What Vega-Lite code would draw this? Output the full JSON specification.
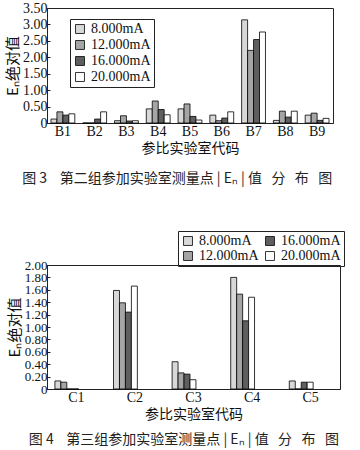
{
  "$schema": "https://vega.github.io/schema/vega-lite/v6.json",
  "padding": {"left": 5, "top": 0, "right": 5, "bottom": 0},
  "background": "white",
  "spacing": 43,
  "resolve": {"scale": {"color": "independent"}, "legend": {"color": "independent"}},
  "config": {
    "font": "Liberation Serif",
    "view": {"stroke": "#222", "strokeWidth": 1},
    "axis": {
      "labelFont": "Liberation Serif",
      "labelFontSize": 14,
      "labelColor": "#111",
      "titleFont": "Noto Sans CJK SC",
      "titleFontSize": 14,
      "titleFontWeight": "normal",
      "titleColor": "#111",
      "domainColor": "#222",
      "tickColor": "#222",
      "grid": false
    },
    "legend": {
      "labelFont": "Liberation Serif",
      "labelFontSize": 14,
      "labelColor": "#111",
      "symbolType": "square",
      "symbolStrokeColor": "#000",
      "symbolStrokeWidth": 0.8,
      "symbolSize": 80,
      "strokeColor": "#222",
      "title": null
    },
    "title": {"font": "Noto Sans CJK SC", "fontSize": 14, "fontWeight": "normal", "color": "#222"}
  },
  "vconcat": [
    {
      "width": 286,
      "height": 115,
      "data": {"values": [
        {"lab": "B1", "current": "8.000mA", "value": 0.12},
        {"lab": "B1", "current": "12.000mA", "value": 0.34},
        {"lab": "B1", "current": "16.000mA", "value": 0.24},
        {"lab": "B1", "current": "20.000mA", "value": 0.28},
        {"lab": "B2", "current": "8.000mA", "value": 0},
        {"lab": "B2", "current": "12.000mA", "value": 0},
        {"lab": "B2", "current": "16.000mA", "value": 0.12},
        {"lab": "B2", "current": "20.000mA", "value": 0.34},
        {"lab": "B3", "current": "8.000mA", "value": 0.07},
        {"lab": "B3", "current": "12.000mA", "value": 0.22},
        {"lab": "B3", "current": "16.000mA", "value": 0.06},
        {"lab": "B3", "current": "20.000mA", "value": 0.07},
        {"lab": "B4", "current": "8.000mA", "value": 0.43},
        {"lab": "B4", "current": "12.000mA", "value": 0.67},
        {"lab": "B4", "current": "16.000mA", "value": 0.41},
        {"lab": "B4", "current": "20.000mA", "value": 0.25},
        {"lab": "B5", "current": "8.000mA", "value": 0.43},
        {"lab": "B5", "current": "12.000mA", "value": 0.58},
        {"lab": "B5", "current": "16.000mA", "value": 0.2},
        {"lab": "B5", "current": "20.000mA", "value": 0.09},
        {"lab": "B6", "current": "8.000mA", "value": 0.24},
        {"lab": "B6", "current": "12.000mA", "value": 0.07},
        {"lab": "B6", "current": "16.000mA", "value": 0.15},
        {"lab": "B6", "current": "20.000mA", "value": 0.34},
        {"lab": "B7", "current": "8.000mA", "value": 3.14},
        {"lab": "B7", "current": "12.000mA", "value": 2.21},
        {"lab": "B7", "current": "16.000mA", "value": 2.54},
        {"lab": "B7", "current": "20.000mA", "value": 2.77},
        {"lab": "B8", "current": "8.000mA", "value": 0.08},
        {"lab": "B8", "current": "12.000mA", "value": 0.36},
        {"lab": "B8", "current": "16.000mA", "value": 0.18},
        {"lab": "B8", "current": "20.000mA", "value": 0.36},
        {"lab": "B9", "current": "8.000mA", "value": 0.24},
        {"lab": "B9", "current": "12.000mA", "value": 0.3},
        {"lab": "B9", "current": "16.000mA", "value": 0.08},
        {"lab": "B9", "current": "20.000mA", "value": 0.14}
      ]},
      "mark": {"type": "bar", "stroke": "#000", "strokeWidth": 0.8},
      "encoding": {
        "x": {
          "field": "lab", "type": "nominal", "title": "参比实验室代码",
          "scale": {"paddingInner": 0.25, "paddingOuter": 0.125},
          "axis": {"labelAngle": 0, "ticks": false, "labelPadding": 1, "titlePadding": 3}
        },
        "xOffset": {"field": "current", "type": "nominal", "sort": ["8.000mA", "12.000mA", "16.000mA", "20.000mA"]},
        "y": {
          "field": "value", "type": "quantitative",
          "scale": {"domain": [0, 3.5], "nice": false},
          "axis": {
            "values": [0, 0.5, 1, 1.5, 2, 2.5, 3, 3.5],
            "labelExpr": "datum.value == 0 ? '0' : format(datum.value, '.2f')",
            "labelOverlap": false,
            "tickSize": -3, "labelPadding": 3,
            "title": "Eₙ绝对值", "titleFontSize": 15, "titlePadding": 2
          }
        },
        "color": {
          "field": "current", "type": "nominal",
          "scale": {"domain": ["8.000mA", "12.000mA", "16.000mA", "20.000mA"], "range": ["#d8d8d8", "#a5a5a5", "#5f5f5f", "#ffffff"]},
          "legend": {"orient": "none", "legendX": 23, "legendY": 11, "direction": "vertical", "columns": 1, "padding": 3, "rowPadding": 2, "symbolSize": 80}
        }
      },
      "title": {"text": "图 3\u00a0\u00a0\u00a0\u00a0第二组参加实验室测量点\u00a0|\u00a0Eₙ\u00a0|\u00a0值\u00a0\u00a0\u00a0分\u00a0\u00a0\u00a0布\u00a0\u00a0\u00a0图", "orient": "bottom", "frame": "bounds", "anchor": "middle", "offset": 17, "dx": 8}
    },
    {
      "width": 293,
      "height": 124,
      "data": {"values": [
        {"lab": "C1", "current": "8.000mA", "value": 0.13},
        {"lab": "C1", "current": "12.000mA", "value": 0.11},
        {"lab": "C1", "current": "16.000mA", "value": 0},
        {"lab": "C1", "current": "20.000mA", "value": 0},
        {"lab": "C2", "current": "8.000mA", "value": 1.59},
        {"lab": "C2", "current": "12.000mA", "value": 1.39},
        {"lab": "C2", "current": "16.000mA", "value": 1.24},
        {"lab": "C2", "current": "20.000mA", "value": 1.66},
        {"lab": "C3", "current": "8.000mA", "value": 0.44},
        {"lab": "C3", "current": "12.000mA", "value": 0.26},
        {"lab": "C3", "current": "16.000mA", "value": 0.24},
        {"lab": "C3", "current": "20.000mA", "value": 0.15},
        {"lab": "C4", "current": "8.000mA", "value": 1.8},
        {"lab": "C4", "current": "12.000mA", "value": 1.53},
        {"lab": "C4", "current": "16.000mA", "value": 1.1},
        {"lab": "C4", "current": "20.000mA", "value": 1.48},
        {"lab": "C5", "current": "8.000mA", "value": 0.13},
        {"lab": "C5", "current": "12.000mA", "value": 0},
        {"lab": "C5", "current": "16.000mA", "value": 0.11},
        {"lab": "C5", "current": "20.000mA", "value": 0.11}
      ]},
      "mark": {"type": "bar", "stroke": "#000", "strokeWidth": 0.8},
      "encoding": {
        "x": {
          "field": "lab", "type": "nominal", "title": "参比实验室代码",
          "scale": {"paddingInner": 0.27, "paddingOuter": 0.135},
          "axis": {"labelAngle": 0, "ticks": false, "labelPadding": 1, "titlePadding": 3}
        },
        "xOffset": {"field": "current", "type": "nominal", "sort": ["8.000mA", "12.000mA", "16.000mA", "20.000mA"]},
        "y": {
          "field": "value", "type": "quantitative",
          "scale": {"domain": [0, 2], "nice": false},
          "axis": {
            "values": [0, 0.2, 0.4, 0.6, 0.8, 1, 1.2, 1.4, 1.6, 1.8, 2],
            "labelExpr": "datum.value == 0 ? '0' : format(datum.value, '.2f')",
            "labelOverlap": false,
            "labelFontSize": 13,
            "tickSize": -3, "labelPadding": 3,
            "title": "Eₙ绝对值", "titleFontSize": 15, "titlePadding": 2
          }
        },
        "color": {
          "field": "current", "type": "nominal",
          "scale": {"domain": ["8.000mA", "16.000mA", "12.000mA", "20.000mA"], "range": ["#d8d8d8", "#5f5f5f", "#a5a5a5", "#ffffff"]},
          "legend": {"orient": "none", "legendX": 131, "legendY": -34, "direction": "horizontal", "columns": 2, "padding": 3, "rowPadding": 1, "columnPadding": 4, "symbolSize": 80}
        }
      },
      "title": {"text": "图 4\u00a0\u00a0\u00a0\u00a0第三组参加实验室测量点\u00a0|\u00a0Eₙ\u00a0|\u00a0值\u00a0\u00a0\u00a0分\u00a0\u00a0\u00a0布\u00a0\u00a0\u00a0图", "orient": "bottom", "frame": "bounds", "anchor": "middle", "offset": 12, "dx": 8}
    }
  ]
}
